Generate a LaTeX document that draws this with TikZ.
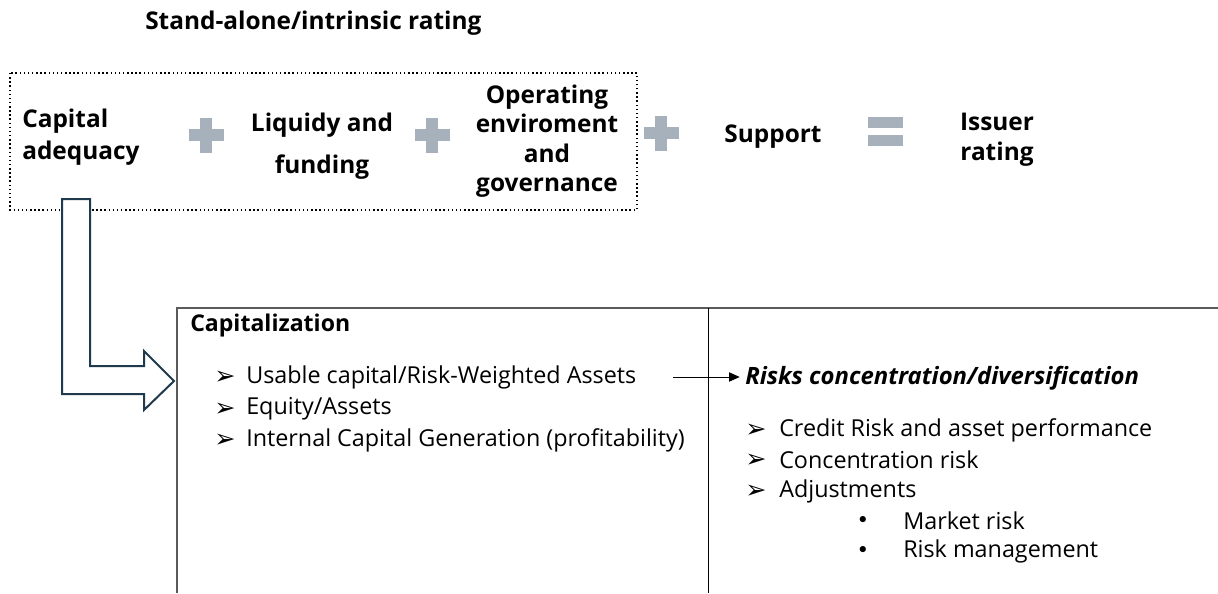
\documentclass[tikz,border=0pt]{standalone}
\usepackage{fontspec}
\setmainfont{Open Sans}
\newfontfamily\symf{DejaVu Sans}
\usetikzlibrary{arrows.meta}
\definecolor{signgrey}{HTML}{A7B1BC}
\definecolor{arrowblue}{HTML}{1E3A4C}
\definecolor{boxgrey}{HTML}{5A5A5A}
\tikzset{
  toplabel/.style={font=\fontsize{18.3}{22.5}\selectfont\bfseries, align=center, inner sep=0pt},
  bodytext/.style={font=\fontsize{17.5}{23.5}\selectfont, anchor=west, inner sep=0pt},
  arr/.style={font=\symf\fontsize{19}{19}\selectfont, anchor=west, inner sep=0pt},
  dot/.style={font=\symf\fontsize{16}{16}\selectfont, anchor=center, inner sep=0pt},
}
\newcommand{\plussign}[2]{%
  \fill[signgrey] (#1-17.5,#2-6) rectangle (#1+17.5,#2+6);
  \fill[signgrey] (#1-6,#2-17.5) rectangle (#1+6,#2+17.5);}
\begin{document}
\begin{tikzpicture}[x=0.75pt,y=-0.75pt]
\useasboundingbox (0,0) rectangle (1218,593);
% title
\node[toplabel, anchor=west] (title) at (145,23) {Stand-alone/intrinsic rating};
% dotted box
\draw[dotted, line width=1.1pt] (10,73) rectangle (637,210);
% labels
\node[toplabel, font=\fontsize{18.3}{24}\selectfont\bfseries, align=left, anchor=west] (cap) at (22,137) {Capital\\adequacy};
\node[toplabel, font=\fontsize{18.3}{31.5}\selectfont\bfseries] (liq) at (322,146) {Liquidy and\\funding};
\node[toplabel, font=\fontsize{18.3}{22}\selectfont\bfseries] (op) at (547,141) {Operating\\enviroment\\and\\governance};
\node[toplabel] (sup) at (773,137) {Support};
\node[toplabel] (iss) at (997,140) {Issuer\\rating};
% signs
\plussign{206}{135}
\plussign{432}{135}
\plussign{661}{133}
\fill[signgrey] (868,117) rectangle (903,128);
\fill[signgrey] (868,135) rectangle (903,146);
% lower box
\draw[boxgrey, line width=1.2pt] (177,593) -- (177,308) -- (1218,308);
\draw[black, line width=0.6pt] (708,308) -- (708,593);
% hollow arrow
\draw[arrowblue, line width=1.5pt, fill=white, line join=miter]
  (62,199) -- (90,199) -- (90,366) -- (144,366) -- (144,351) -- (174,381)
  -- (144,410) -- (144,394) -- (62,394) -- cycle;
% capitalization
\node[font=\fontsize{17.3}{20}\selectfont\bfseries, anchor=west, inner sep=0pt] (capz) at (190,326) {Capitalization};
\node[arr] (a1) at (214,378) {➢};
\node[bodytext] (t1) at (246,377) {Usable capital/Risk-Weighted Assets};
\node[arr] (a2) at (214,410) {➢};
\node[bodytext] (t2) at (246,409) {Equity/Assets};
\node[arr] (a3) at (214,441) {➢};
\node[bodytext] (t3) at (246,440) {Internal Capital Generation (profitability)};
% risks
\node[font=\fontsize{17.9}{20}\selectfont\bfseries\itshape, anchor=west, inner sep=0pt] (risk) at (745,378) {Risks concentration/diversification};
\coordinate (ast) at (673,377);
\draw[line width=0.6pt, shorten >=4pt, -{Triangle[length=8pt,width=7pt]}] (ast) -- (ast -| risk.west);
\node[arr] (b1) at (745,431) {➢};
\node[bodytext] (r1) at (779,430) {Credit Risk and asset performance};
\node[arr] (b2) at (745,461) {➢};
\node[bodytext] (r2) at (779,460) {Concentration risk};
\node[arr] (b3) at (745,492) {➢};
\node[bodytext] (r3) at (779,491) {Adjustments};
\node[dot] (d1) at (863,522) {•};
\node[bodytext] (m1) at (903,521) {Market risk};
\node[dot] (d2) at (863,552) {•};
\node[bodytext] (m2) at (903,551) {Risk management};
\end{tikzpicture}
\end{document}
